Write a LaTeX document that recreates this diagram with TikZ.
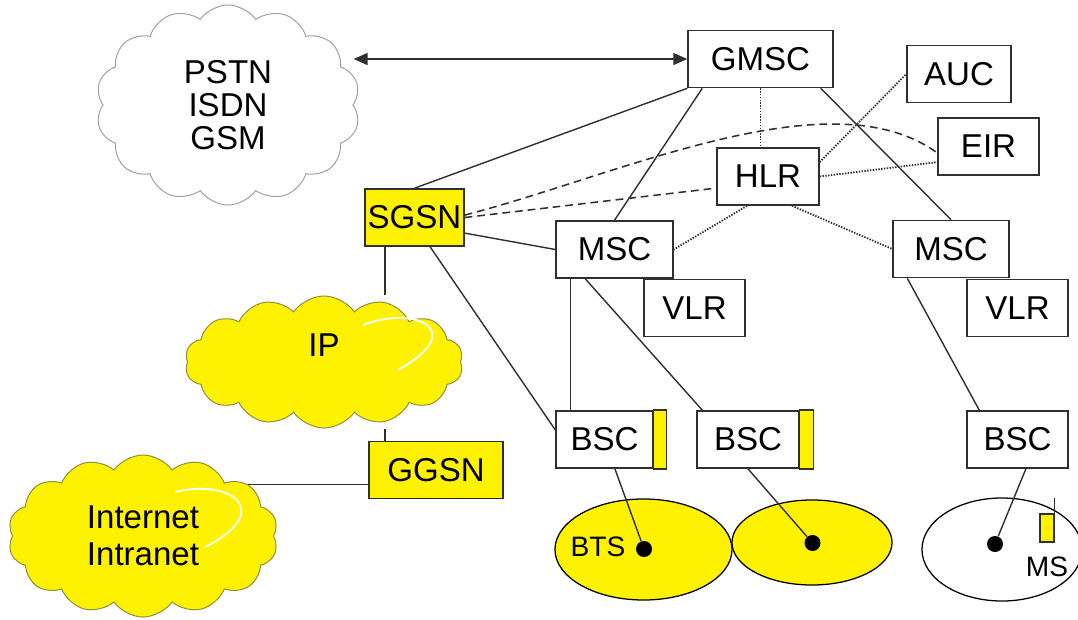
\documentclass[tikz,border=0pt]{standalone}
\usepackage{fontspec}
\setmainfont{Liberation Sans}
\usepackage{tikz}
\usetikzlibrary{shapes.geometric,shapes.symbols,arrows.meta}

\definecolor{boxline}{HTML}{303030}
\definecolor{cloudgray}{HTML}{A0A0A0}
\definecolor{cloudolive}{HTML}{8E8E3C}

\begin{document}
\begin{tikzpicture}[
    x=0.025cm, y=-0.025cm,
    unit/.style={rectangle, draw=boxline, line width=1pt, fill=white, inner sep=0pt, minimum height=1.43cm, font=\fontsize{23.5}{26}\selectfont},
    gprs/.style={unit, fill=yellow},
    net/.style={cloud, cloud puffs=14, cloud puff arc=110, aspect=1.6, inner sep=0pt, line width=0.7pt, align=center, font=\fontsize{23.5}{23.5}\selectfont},
    cell/.style={ellipse, draw=black, line width=0.9pt, inner sep=0pt},
    site/.style={circle, fill=black, inner sep=0pt, minimum size=0.4cm},
    tag/.style={inner sep=0pt, font=\fontsize{20}{22}\selectfont},
    link/.style={draw=boxline, line width=1pt},
    sig/.style={link, densely dotted, line width=1.3pt},
    data/.style={link, line width=1.1pt, dash pattern=on 5.5pt off 3.5pt}
]
    \useasboundingbox (0,0) rectangle (1078,619);

    \node[net, draw=cloudgray, fill=white, minimum width=6.6cm, minimum height=5cm] (pstn) at (228,105) {PSTN\\ISDN\\GSM};
    \node[net, draw=cloudolive, fill=yellow, minimum width=6.95cm, minimum height=3.3cm, label={[font=\fontsize{23.5}{26}\selectfont, yshift=0.42cm]center:IP}] (ipnet) at (324,362) {};
    \node[net, draw=cloudolive, fill=yellow, minimum width=6.75cm, minimum height=4.05cm, font=\fontsize{23.5}{26.5}\selectfont] (inet) at (143,536) {Internet\\Intranet};
    \draw[white, line width=1.3pt] (363,325) .. controls (415,305) and (470,330) .. (398,370);
    \draw[white, line width=1.3pt] (175,492) .. controls (232,478) and (275,512) .. (205,547);

    \node[unit, minimum width=3.625cm] (gmsc) at (760.5,59) {GMSC};
    \node[unit, minimum width=2.6cm] (auc) at (959,74) {AUC};
    \node[unit, minimum width=2.525cm] (eir) at (988.5,146.5) {EIR};
    \node[unit, minimum width=2.55cm] (hlr) at (768,176.5) {HLR};
    \node[gprs, minimum width=2.475cm] (sgsn) at (414.5,217.5) {SGSN};
    \node[unit, minimum width=2.525cm] (vlrl) at (694.5,308) {VLR};
    \node[unit, minimum width=2.525cm] (vlrr) at (1017.5,308) {VLR};
    \node[unit, minimum width=2.925cm] (mscl) at (614.5,249.5) {MSC};
    \node[unit, minimum width=2.9cm] (mscr) at (951,249) {MSC};
    \node[gprs, minimum width=3.35cm] (ggsn) at (436,470) {GGSN};
    \node[unit, minimum width=2.425cm] (bsca) at (604.5,439.5) {BSC};
    \node[unit, minimum width=2.55cm] (bscb) at (748,439.5) {BSC};
    \node[unit, minimum width=2.525cm] (bscc) at (1017.5,439.5) {BSC};
    \draw[draw=boxline, line width=1pt, fill=yellow] (bsca.north east) rectangle ([xshift=0.325cm]bsca.south east);
    \draw[draw=boxline, line width=1pt, fill=yellow] (bscb.north east) rectangle ([xshift=0.35cm]bscb.south east);

    \node[cell, fill=yellow, minimum width=4.425cm, minimum height=2.525cm] (cella) at (643.5,549.5) {};
    \node[cell, fill=yellow, minimum width=4cm, minimum height=2.125cm] (cellb) at (812,542.5) {};
    \node[cell, fill=white, minimum width=4cm, minimum height=2.575cm] (cellc) at (1002,549.5) {};
    \node[site] (sitea) at (644,549) {};
    \node[site] (siteb) at (812.5,543) {};
    \node[site] (sitec) at (995,544) {};
    \node[tag] (bts) at (598,547) {BTS};
    \node[rectangle, draw=boxline, line width=0.8pt, fill=yellow, inner sep=0pt, minimum width=0.35cm, minimum height=0.7cm] (phone) at (1047,528) {};
    \draw[link] (phone.north east) -- ++(0,-15);
    \node[tag] (ms) at (1047,567) {MS};

    \draw[link, line width=1.1pt, {Triangle[length=0.35cm,width=0.3cm]}-{Triangle[length=0.35cm,width=0.3cm]}] (gmsc.west -| pstn.east) -- (gmsc.west);
    \draw[link] (gmsc.south west) -- (sgsn.north);
    \draw[link] ([xshift=0.375cm]gmsc.south west) -- (mscl.north);
    \draw[link] ([xshift=-0.325cm]gmsc.south east) -- (mscr.north);
    \draw[sig] (gmsc.south) -- (gmsc.south |- hlr.north);
    \draw[sig] ([yshift=0.36cm]hlr.east) -- (auc.west);
    \draw[sig] (hlr.east) -- ([yshift=-0.39cm]eir.west);
    \draw[sig] ([xshift=-0.525cm]hlr.south) -- (mscl.east);
    \draw[sig] ([xshift=0.6cm]hlr.south) -- (mscr.west);
    \draw[data] (sgsn.east) -- ([yshift=-0.29cm]hlr.west);
    \draw[data] ([yshift=0.06cm]sgsn.east) .. controls (620,175) and (830,75) .. ([yshift=-0.16cm]eir.west);
    \draw[link] ([yshift=-0.39cm]sgsn.east) -- (mscl.west);
    \draw[link] ([xshift=-0.74cm]sgsn.south) -- ([xshift=-0.74cm]sgsn.south |- ipnet.north);
    \draw[link] ([xshift=0.39cm]sgsn.south) -- ([yshift=0.24cm]bsca.west);
    \draw[link] ([xshift=-1.275cm]ggsn.north) -- ([xshift=-1.275cm]ggsn.north |- ipnet.south);
    \draw[link] (inet.26) -- (inet.26 -| ggsn.west);
    \draw[link] ([xshift=0.375cm]mscl.south west) -- ([xshift=0.375cm]mscl.south west |- bsca.north);
    \draw[link] ([xshift=0.75cm]mscl.south west) -- ([xshift=0.15cm]bscb.north west);
    \draw[link] ([xshift=0.375cm]mscr.south west) -- ([xshift=0.325cm]bscc.north west);
    \draw[link] ([xshift=0.26cm]bsca.south) -- (sitea);
    \draw[link] (bscb.south) -- (siteb);
    \draw[link] ([xshift=0.21cm]bscc.south) -- (sitec);
\end{tikzpicture}
\end{document}
